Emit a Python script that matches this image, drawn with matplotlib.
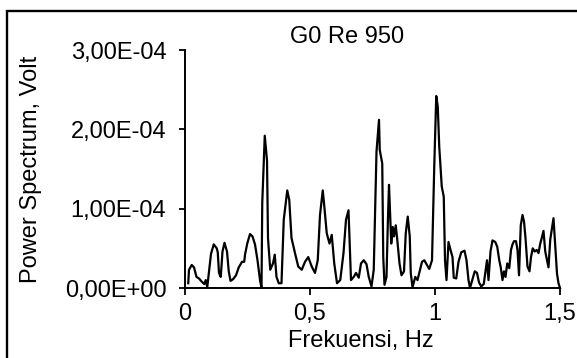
import matplotlib
matplotlib.use('Agg')
import matplotlib.pyplot as plt
from matplotlib.patches import Rectangle

plt.rcParams['font.family'] = ['Liberation Sans', 'DejaVu Sans']

# frequency (Hz) and power spectrum (x 1e-4 Volt)
freq = [0.013, 0.016, 0.027, 0.036, 0.046, 0.056, 0.067, 0.077, 0.083, 0.089,
        0.104, 0.115, 0.127, 0.131, 0.136, 0.143, 0.150, 0.158, 0.168, 0.175,
        0.182, 0.192, 0.204, 0.215, 0.228, 0.237, 0.240, 0.249, 0.260, 0.270,
        0.280, 0.290, 0.300, 0.306,
        0.309, 0.319, 0.328, 0.332, 0.341, 0.352, 0.359, 0.366, 0.375, 0.386,
        0.395, 0.409, 0.417, 0.426, 0.440, 0.453, 0.467, 0.480, 0.493, 0.507,
        0.520, 0.531, 0.540, 0.551, 0.556, 0.567, 0.578, 0.587, 0.597, 0.608,
        0.621, 0.634, 0.644, 0.654, 0.659, 0.664, 0.675, 0.684, 0.695, 0.704,
        0.715, 0.726, 0.735, 0.746, 0.755,
        0.766, 0.776, 0.779, 0.789, 0.793, 0.798, 0.806, 0.812, 0.816, 0.820,
        0.825, 0.831, 0.836, 0.843, 0.849, 0.858, 0.866, 0.876, 0.883, 0.891,
        0.899, 0.903, 0.910, 0.921, 0.930, 0.940, 0.948, 0.957, 0.968, 0.977,
        0.988, 0.997, 1.005, 1.011, 1.017, 1.027, 1.035, 1.040, 1.046, 1.054,
        1.062, 1.070, 1.075, 1.085, 1.094, 1.105, 1.118, 1.126, 1.134,
        1.140, 1.149, 1.159, 1.168, 1.176, 1.185, 1.195, 1.203, 1.208, 1.214,
        1.222, 1.230, 1.241, 1.249, 1.257, 1.263, 1.270, 1.276, 1.282, 1.289,
        1.297, 1.304, 1.310, 1.316, 1.324, 1.330, 1.336, 1.343, 1.350, 1.356,
        1.362, 1.370, 1.378, 1.384, 1.391, 1.399, 1.407, 1.414, 1.421, 1.427,
        1.434, 1.441, 1.448, 1.454, 1.461, 1.468, 1.474, 1.481, 1.488, 1.494,
        1.500]
power = [0.06, 0.23, 0.29, 0.26, 0.14, 0.12, 0.08, 0.05, 0.10, 0.01,
         0.43, 0.55, 0.50, 0.45, 0.19, 0.14, 0.46, 0.57, 0.46, 0.21,
         0.09, 0.11, 0.16, 0.26, 0.33, 0.33, 0.42, 0.56, 0.68, 0.65,
         0.55, 0.35, 0.10, 0.00,
         1.07, 1.92, 1.61, 0.63, 0.23, 0.31, 0.42, 0.14, 0.06, 0.06,
         0.86, 1.23, 1.11, 0.63, 0.44, 0.27, 0.23, 0.33, 0.39, 0.27,
         0.19, 0.35, 0.92, 1.23, 1.07, 0.69, 0.56, 0.67, 0.31, 0.06,
         0.10, 0.44, 0.86, 0.98, 0.52, 0.10, 0.14, 0.19, 0.13, 0.31,
         0.35, 0.30, 0.14, 0.02, 0.23,
         1.72, 2.12, 1.74, 1.57, 0.39, 0.04, 0.14, 0.90, 1.30, 0.98,
         0.56, 0.77, 0.65, 0.79, 0.61, 0.31, 0.16, 0.21, 0.69, 0.90,
         0.65, 0.19, 0.01, 0.14, 0.10, 0.23, 0.33, 0.35, 0.29, 0.24,
         0.35, 1.53, 2.42, 2.29, 1.78, 1.28, 1.15, 0.35, 0.10, 0.58,
         0.48, 0.39, 0.13, 0.12, 0.33, 0.45, 0.47, 0.35, 0.10,
         0.00, 0.10, 0.21, 0.19, 0.07, 0.02, 0.05, 0.23, 0.35, 0.10,
         0.46, 0.60, 0.58, 0.52, 0.35, 0.26, 0.10, 0.21, 0.14, 0.31,
         0.25, 0.48, 0.55, 0.59, 0.59, 0.48, 0.16, 0.79, 0.92, 0.84,
         0.63, 0.27, 0.21, 0.39, 0.50, 0.46, 0.48, 0.44, 0.56, 0.63,
         0.72, 0.46, 0.35, 0.26, 0.61, 0.76, 0.88, 0.52, 0.18, 0.06,
         0.00]
power = [p * 1e-4 for p in power]

x_ticks = [0, 0.5, 1, 1.5]
x_labels = ['0', '0,5', '1', '1,5']
y_ticks = [0, 1e-4, 2e-4, 3e-4]
y_labels = ['0,00E+00', '1,00E-04', '2,00E-04', '3,00E-04']

W, H = 577, 358
fig = plt.figure(figsize=(W / 100, H / 100), dpi=100)
ax = fig.add_axes([185 / W, 1 - 288 / H, 375 / W, 238 / H])

ax.plot(freq, power, color='black', lw=1.6, clip_on=False)

ax.set_xlim(0, 1.5)
ax.set_ylim(0, 3e-4)
ax.set_xticks(x_ticks)
ax.set_xticklabels(x_labels)
ax.set_yticks(y_ticks)
ax.set_yticklabels(y_labels)
ax.tick_params(axis='both', labelsize=17, width=1.3, colors='black')
ax.tick_params(axis='y', length=4.5, pad=9)
ax.tick_params(axis='x', length=5, pad=6)

ax.spines['top'].set_visible(False)
ax.spines['right'].set_visible(False)
ax.spines['left'].set_linewidth(1.4)
ax.spines['bottom'].set_linewidth(1.4)

fig.text(347 / W, 1 - 43 / H, 'G0 Re 950', ha='center', va='baseline', fontsize=17)
fig.text(361 / W, 1 - 347 / H, 'Frekuensi, Hz', ha='center', va='baseline', fontsize=17)
fig.text(31 / W, 1 - 169 / H, 'Power Spectrum, Volt', ha='center', va='center',
         rotation=90, fontsize=17)

# chart-area frame, only its left and top edges fall inside the picture
fig.patches.append(Rectangle((7 / W, -0.5), 2, 1 - 11 / H + 0.5, transform=fig.transFigure,
                             fill=False, ec='black', lw=1.7))

fig.savefig('out.png', dpi=100)
